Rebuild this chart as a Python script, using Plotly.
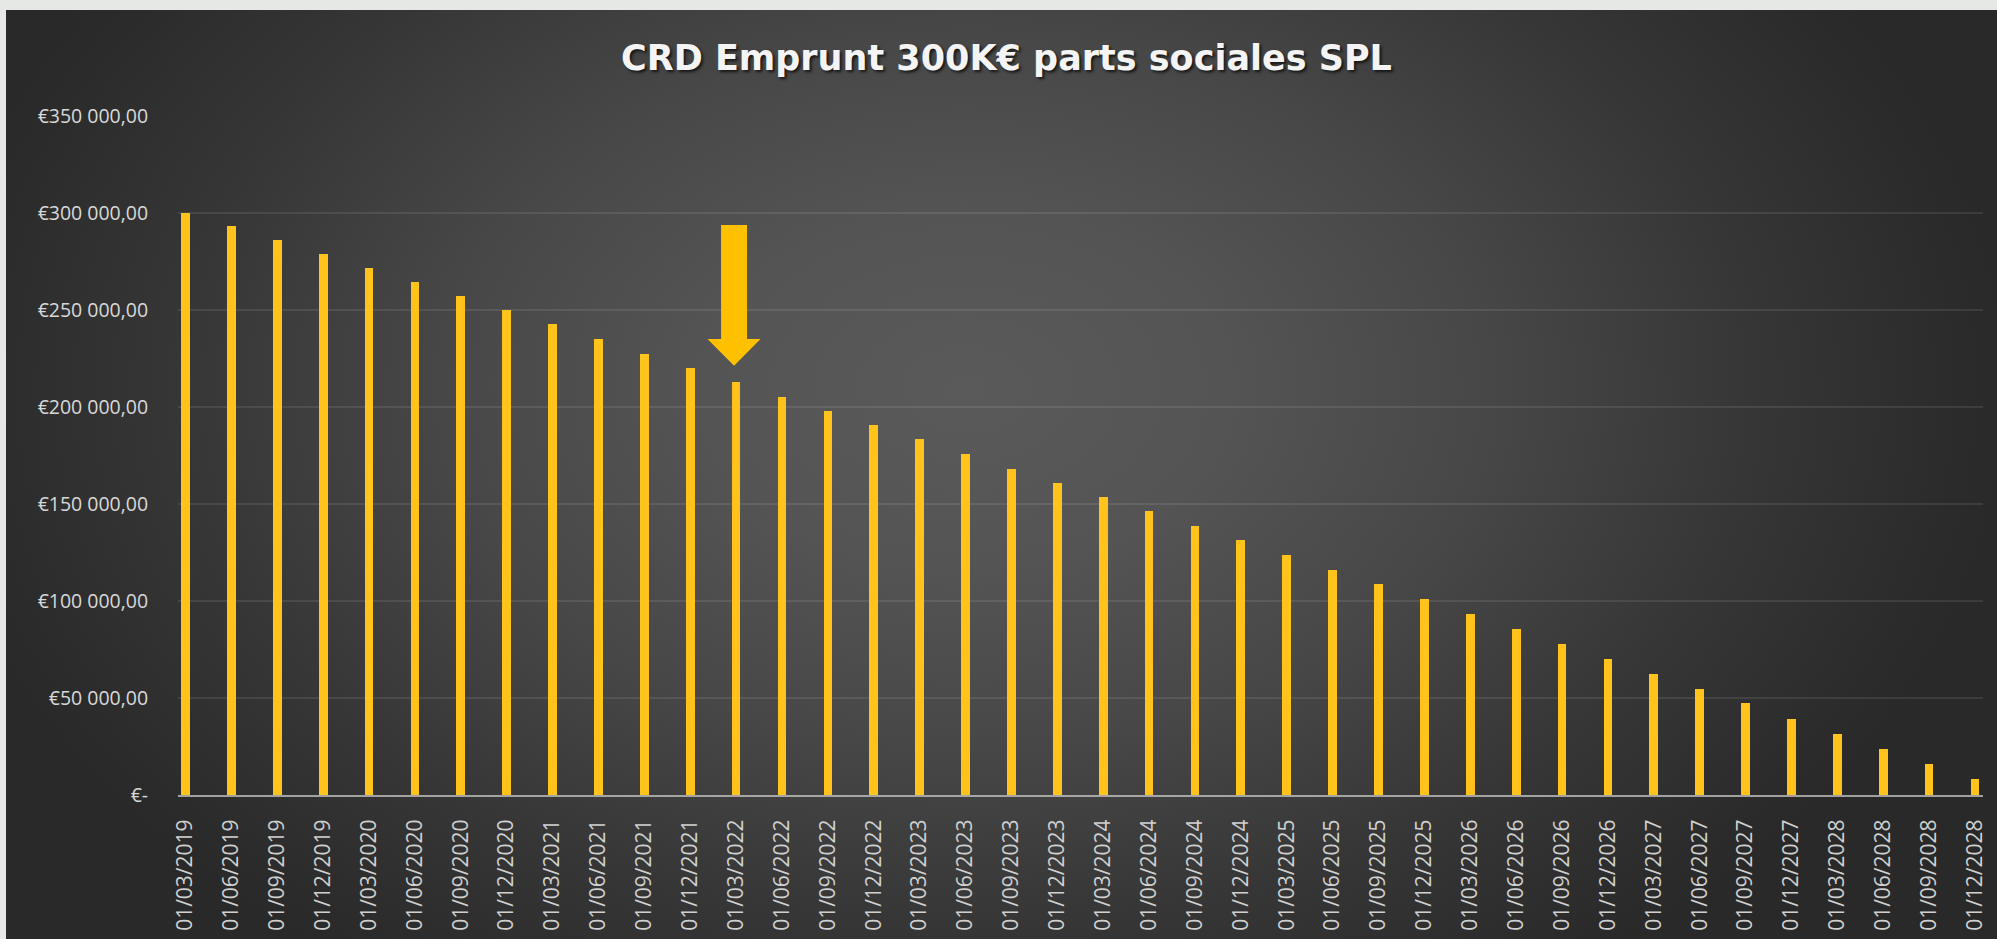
import base64
import plotly.graph_objects as go

# ---------------- data ----------------
dates = [
    "01/03/2019", "01/06/2019", "01/09/2019", "01/12/2019",
    "01/03/2020", "01/06/2020", "01/09/2020", "01/12/2020",
    "01/03/2021", "01/06/2021", "01/09/2021", "01/12/2021",
    "01/03/2022", "01/06/2022", "01/09/2022", "01/12/2022",
    "01/03/2023", "01/06/2023", "01/09/2023", "01/12/2023",
    "01/03/2024", "01/06/2024", "01/09/2024", "01/12/2024",
    "01/03/2025", "01/06/2025", "01/09/2025", "01/12/2025",
    "01/03/2026", "01/06/2026", "01/09/2026", "01/12/2026",
    "01/03/2027", "01/06/2027", "01/09/2027", "01/12/2027",
    "01/03/2028", "01/06/2028", "01/09/2028", "01/12/2028",
]
crd = [
    300000, 293150, 285930, 278710, 271500, 264280, 257060, 249840,
    242630, 234890, 227530, 220310, 213090, 205360, 198140, 190920,
    183700, 175970, 168240, 161020, 153450, 146230, 138500, 131280,
    123550, 115820, 108600, 100870, 93140, 85410, 77680, 69950,
    62220, 54490, 47270, 39020, 31290, 23560, 15820, 8090,
]
y_tickvals = [0, 50000, 100000, 150000, 200000, 250000, 300000, 350000]
y_ticktext = ["€-", "€50 000,00", "€100 000,00", "€150 000,00",
              "€200 000,00", "€250 000,00", "€300 000,00", "€350 000,00"]
title_text = "CRD Emprunt 300K€ parts sociales SPL"
highlight_index = 12  # arrow points at 01/03/2022

# ---------------- layout geometry ----------------
W, H = 1997, 939
ML, MR, MT, MB = 178, 14, 116, 144
plot_w = W - ML - MR
plot_h = H - MT - MB
x_range = [-0.163, 39.174]
y_range = [0, 350000]

# background gradient (chart area from x=6,y=10 to the page edge)
bg_w, bg_h = W - 6, H - 10
svg = f'''<svg xmlns="http://www.w3.org/2000/svg" width="{bg_w}" height="{bg_h}" viewBox="0 0 {bg_w} {bg_h}" preserveAspectRatio="none">
<defs><radialGradient id="g" gradientUnits="userSpaceOnUse" cx="960" cy="380" r="1050"
 gradientTransform="translate(960 380) scale(1 0.68) translate(-960 -380)">
<stop offset="0" stop-color="#5a5a5a"/>
<stop offset="0.25" stop-color="#545454"/>
<stop offset="0.5" stop-color="#474747"/>
<stop offset="0.75" stop-color="#363636"/>
<stop offset="0.95" stop-color="#2b2b2b"/>
<stop offset="1" stop-color="#292929"/>
</radialGradient></defs>
<rect x="0" y="0" width="{bg_w}" height="{bg_h}" fill="url(#g)"/>
</svg>'''
bg_src = "data:image/svg+xml;base64," + base64.b64encode(svg.encode()).decode()

def px_to_paper_x(px):
    return (px - ML) / plot_w

def px_to_paper_y(py):
    return (H - MB - py) / plot_h

xs = list(range(len(dates)))

fig = go.Figure()
fig.add_trace(go.Bar(
    x=xs, y=crd, width=0.19,
    marker=dict(color="#FFC31C", line=dict(width=0)),
    hovertext=dates, hoverinfo="text+y",
))

# arrow (annotation mark) in data coordinates
cx = highlight_index - 0.045
sw, hw = 0.283, 0.578
y_top, y_head, y_tip = 293800, 235000, 221200
arrow_path = (f"M {cx - sw},{y_top} L {cx + sw},{y_top} L {cx + sw},{y_head} "
              f"L {cx + hw},{y_head} L {cx},{y_tip} L {cx - hw},{y_head} "
              f"L {cx - sw},{y_head} Z")

fig.update_layout(
    width=W, height=H,
    margin=dict(l=ML, r=MR, t=MT, b=MB, pad=0, autoexpand=False),
    paper_bgcolor="#e6e8e5",
    plot_bgcolor="rgba(0,0,0,0)",
    showlegend=False,
    bargap=0,
    title=dict(
        text=title_text, x=0.504, xref="container", xanchor="center",
        y=1 - 58 / H, yref="container", yanchor="middle",
        font=dict(family="DejaVu Sans", size=35, color="#f4f4f4", weight="bold",
                  shadow="2px 2px 3px rgba(0,0,0,0.7)"),
    ),
    images=[dict(
        source=bg_src, xref="paper", yref="paper",
        x=px_to_paper_x(6), y=px_to_paper_y(10),
        sizex=(W - 6) / plot_w, sizey=(H - 10) / plot_h,
        sizing="stretch", xanchor="left", yanchor="top", layer="below",
    )],
    shapes=[dict(type="path", path=arrow_path, xref="x", yref="y",
                 fillcolor="#FFC000", line=dict(width=0), layer="above")],
    xaxis=dict(
        range=x_range, tickmode="array", tickvals=xs, ticktext=dates,
        tickangle=-90, showgrid=False, zeroline=False, automargin=False,
        showline=True, linecolor="rgba(200,200,200,0.75)", linewidth=2,
        ticks="outside", ticklen=14, tickcolor="rgba(0,0,0,0)",
        tickfont=dict(family="Open Sans", size=21, color="#d0d0d0"),
    ),
    yaxis=dict(
        range=y_range, tickmode="array", tickvals=y_tickvals, ticktext=y_ticktext,
        showgrid=True, gridcolor="rgba(255,255,255,0.09)", gridwidth=2,
        zeroline=False, showline=False, automargin=False,
        ticks="outside", ticklen=25, tickcolor="rgba(0,0,0,0)",
        tickfont=dict(family="Open Sans", size=19.5, color="#d8d8d8"),
    ),
)

fig.write_html(
    "out.html",
    config={"displayModeBar": False},
    post_script="document.body.style.margin='0';document.body.style.overflow='hidden';",
)
